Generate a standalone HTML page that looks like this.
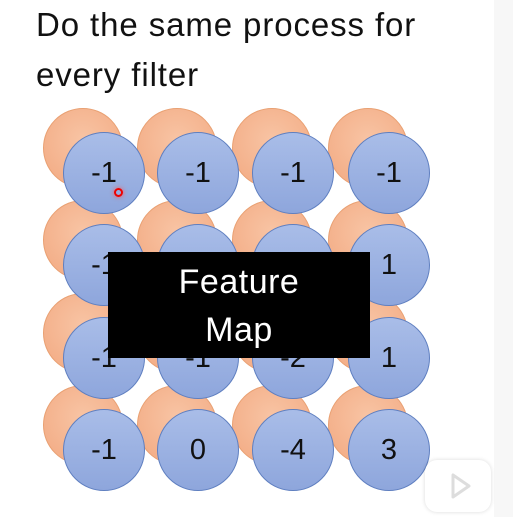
<!DOCTYPE html>
<html><head><meta charset="utf-8"><style>
body{margin:0;width:513px;height:517px;overflow:hidden;background:#fff;font-family:"Liberation Sans","DejaVu Sans",sans-serif;position:relative}
.t{position:absolute;left:36px;font-size:33px;letter-spacing:0.9px;color:#111}
.c{position:absolute;border-radius:50%;box-sizing:border-box}
.o{width:80px;height:80px;background:radial-gradient(circle at 50% 40%,#f8c4a4,#f2a880);border:1px solid #e9a072}
.b{width:82px;height:82px;background:linear-gradient(#a9bde8,#8ea6dc);border:1.5px solid #5f7fc0;display:flex;align-items:center;justify-content:center;font-size:29px;color:#111}
</style></head><body>
<div class="t" style="top:6px">Do the same process for</div>
<div class="t" style="top:56px">every filter</div>
<div id="g"></div>
<div style="position:absolute;left:108px;top:252px;width:262px;height:106px;background:#000;color:#fff;font-size:34px;letter-spacing:0.5px;text-align:center;line-height:48px;padding-top:6px;box-sizing:border-box">Feature<br>Map</div>
<div style="position:absolute;left:494px;top:0;width:19px;height:517px;background:#f7f7f7"></div>
<div style="position:absolute;left:425px;top:460px;width:66px;height:52px;background:#fff;border-radius:12px;box-shadow:0 0 4px rgba(0,0,0,.15)">
<svg width="66" height="52"><path d="M28 15 L28 37 L44 26 Z" fill="none" stroke="#ddd" stroke-width="3" stroke-linejoin="round"/></svg></div>
<div style="position:absolute;left:114px;top:188px;width:9px;height:9px;border-radius:50%;border:2px solid #e00;box-sizing:border-box;box-shadow:0 0 5px #f55"></div>
<script>
const values=[["-1","-1","-1","-1"],["-1","-1","-1","1"],["-1","-1","-2","1"],["-1","0","-4","3"]];
const colX=[104,198,293,389], rowY=[173,265,358,450];
const g=document.getElementById('g');
values.forEach((row,r)=>row.forEach((v,c)=>{
  const o=document.createElement('div');o.className='c o';
  
  
  o.style.left=(colX[c]-21-40)+'px';o.style.top=(rowY[r]-25-40)+'px';g.appendChild(o);
}));
values.forEach((row,r)=>row.forEach((v,c)=>{
  const b=document.createElement('div');b.className='c b';
  
  
  b.style.left=(colX[c]-41)+'px';b.style.top=(rowY[r]-41)+'px';b.textContent=v;g.appendChild(b);
}));
</script>
</body></html>
